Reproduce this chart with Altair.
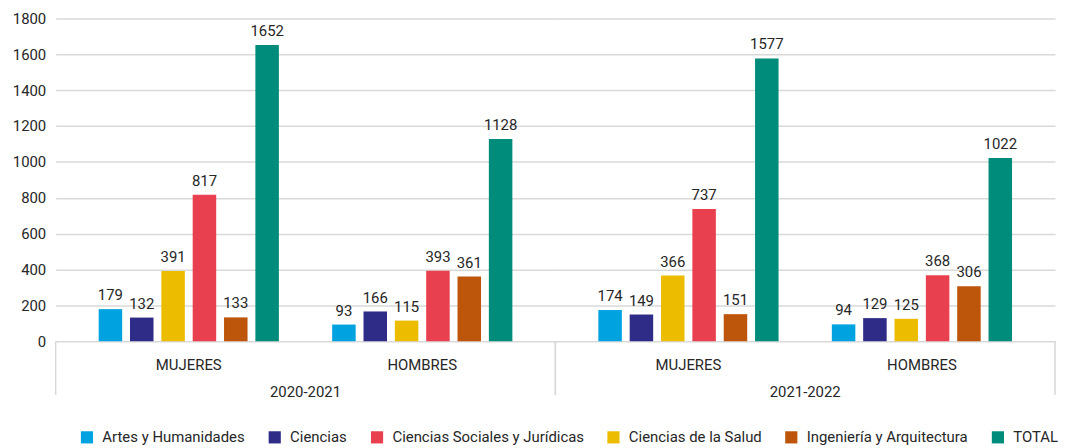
import altair as alt
import pandas as pd

# ---- data ----
anios = ["2020-2021", "2020-2021", "2021-2022", "2021-2022"]
generos = ["MUJERES", "HOMBRES", "MUJERES", "HOMBRES"]

series_legend = ["Artes y Humanidades", "Ciencias", "Ciencias Sociales y Jurídicas",
                 "Ciencias de la Salud", "Ingeniería y Arquitectura", "TOTAL"]
series_bars = ["Artes y Humanidades", "Ciencias", "Ciencias de la Salud",
               "Ciencias Sociales y Jurídicas", "Ingeniería y Arquitectura", "TOTAL"]
colores = ["#00A3E0", "#2E2C86", "#E8404E", "#EBBC00", "#BD550B", "#008C7B"]

artes = [179, 93, 174, 94]
ciencias = [132, 166, 149, 129]
sociales = [817, 393, 737, 368]
salud = [391, 115, 366, 125]
ingenieria = [133, 361, 151, 306]
total = [1652, 1128, 1577, 1022]

valores = {
    "Artes y Humanidades": artes,
    "Ciencias": ciencias,
    "Ciencias Sociales y Jurídicas": sociales,
    "Ciencias de la Salud": salud,
    "Ingeniería y Arquitectura": ingenieria,
    "TOTAL": total,
}

rows = []
for s in series_legend:
    for i in range(4):
        rows.append({"anio": anios[i], "genero": generos[i], "serie": s, "valor": valores[s][i]})
df = pd.DataFrame(rows)

FONT = "Roboto"
FS = 15
TXT = "#262626"
GRID = "#D9D9D9"
W, H = 503, 325

x_enc = alt.X("genero:N", sort=["MUJERES", "HOMBRES"],
              scale=alt.Scale(paddingInner=0, paddingOuter=0.07),
              axis=alt.Axis(title=None, ticks=False, domain=False, labelFontSize=FS,
                            labelColor=TXT, labelPadding=16, labelAngle=0, labelFont=FONT))
xo_enc = alt.XOffset("serie:N", sort=series_bars,
                     scale=alt.Scale(paddingInner=0.25, paddingOuter=0.85))
y_enc = alt.Y("valor:Q", scale=alt.Scale(domain=[0, 1800], nice=False),
              axis=alt.Axis(title=None, values=list(range(0, 1801, 200)), format="d",
                            domain=False, ticks=False, labelFontSize=FS, labelColor=TXT,
                            labelPadding=10, gridColor=GRID, gridWidth=1.5, labelFont=FONT))

base = alt.Chart(df)

bars = base.mark_bar().encode(
    x=x_enc, xOffset=xo_enc, y=y_enc,
    color=alt.Color("serie:N", scale=alt.Scale(domain=series_legend, range=colores),
                    legend=alt.Legend(title=None, orient="none", direction="horizontal",
                                      legendX=24, legendY=414, symbolType="square",
                                      symbolSize=150, symbolStrokeWidth=0,
                                      labelFontSize=FS, labelColor=TXT, labelOffset=8,
                                      columnPadding=22, labelLimit=400, labelFont=FONT)),
)

labels = base.mark_text(baseline="alphabetic", dy=-9, fontSize=FS, color=TXT, font=FONT).encode(
    x=x_enc, xOffset=xo_enc, y=y_enc, text=alt.Text("valor:Q"))

one = base.transform_filter((alt.datum.serie == "TOTAL") & (alt.datum.genero == "MUJERES"))
sep_left = one.mark_rule(color=GRID, strokeWidth=1.5).encode(
    x=alt.value(0), x2=alt.value(0), y=alt.value(H), y2=alt.value(H + 54))
sep_right = one.mark_rule(color=GRID, strokeWidth=1.5).encode(
    x=alt.value(W), x2=alt.value(W), y=alt.value(H), y2=alt.value(H + 54))

chart = alt.layer(bars, labels, sep_left, sep_right).properties(width=W, height=H).facet(
    column=alt.Column("anio:N", title=None,
                      header=alt.Header(labelOrient="bottom", labelFontSize=FS,
                                        labelColor=TXT, labelFont=FONT, labelPadding=13)),
    spacing=0,
).properties(
    bounds="flush",
    padding={"left": 4, "top": 2, "right": 0, "bottom": 0},
).configure(font=FONT).configure_view(strokeWidth=0, stroke="transparent")

chart.save("out.html", embed_options={"renderer": "svg", "actions": False})
